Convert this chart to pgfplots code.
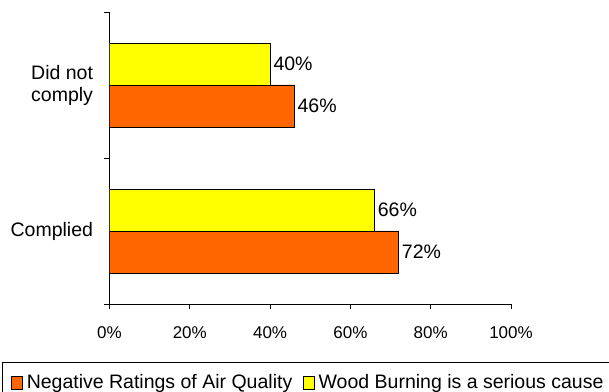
\documentclass[border=0pt]{standalone}
\usepackage{pgfplots}
\pgfplotsset{compat=1.18}
\usepackage{fontspec}
\setmainfont{Liberation Sans}
\definecolor{negorange}{HTML}{FF6600}
\definecolor{woodyellow}{HTML}{FFFF00}
\begin{document}
\begin{tikzpicture}
\path[use as bounding box] (-109.5bp,-88bp) rectangle (499.5bp,304bp);
\begin{axis}[
    scale only axis,
    width=401.5bp, height=292bp,
    at={(0,0)}, anchor=south west,
    xbar,
    bar width=0.2877,
    xmin=0, xmax=100,
    ymin=-0.5, ymax=1.5,
    axis x line*=bottom,
    axis y line*=left,
    axis line style={black, line width=0.8bp},
    xtick={0,20,40,60,80,100},
    xticklabel={\pgfmathprintnumber{\tick}\%},
    /pgf/number format/assume math mode=true,
    xticklabel style={font=\fontsize{17bp}{20bp}\selectfont, yshift=-14bp},
    ytick={0,1},
    yticklabels={Complied,{Did not\\comply}},
    yticklabel style={font=\fontsize{19.5bp}{22bp}\selectfont, align=right, xshift=-8bp},
    minor ytick={-0.5,0.5,1.5},
    major y tick style={draw=none},
    tick align=outside,
    major tick length=5bp,
    minor tick length=5bp,
    tick style={black, line width=0.8bp},
    nodes near coords={\pgfmathprintnumber{\pgfplotspointmeta}\%},
    every node near coord/.append style={font=\fontsize{19.5bp}{22bp}\selectfont, inner xsep=3bp},
    legend columns=2,
    legend style={at={(-0.2678,-0.1986)}, anchor=north west, draw=black, line width=0.8bp,
        font=\fontsize{19.5bp}{22bp}\selectfont, inner xsep=9bp, inner ysep=10bp,
        /tikz/every even column/.append style={column sep=9bp}},
    legend image code/.code={\draw[#1, draw=black, line width=0.8bp] (0bp,-7bp) rectangle (11bp,5.5bp);
        \draw[draw=none, fill=none] (0bp,0bp) -- (13bp,0bp);},
]
\addplot[fill=negorange, draw=black, line width=0.8bp, bar shift=-0.1438]
    coordinates {(72,0) (46,1)};
\addplot[fill=woodyellow, draw=black, line width=0.8bp, bar shift=0.1438]
    coordinates {(66,0) (40,1)};
\legend{Negative Ratings of Air Quality, Wood Burning is a serious cause}
\end{axis}
\end{tikzpicture}
\end{document}
